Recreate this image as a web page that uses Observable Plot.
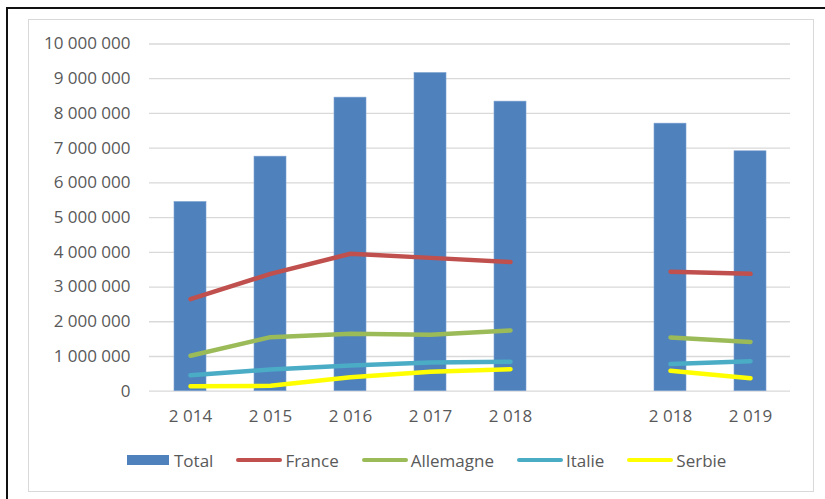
<!DOCTYPE html>
<html>
<head>
<meta charset="utf-8">
<script src="https://cdn.jsdelivr.net/npm/d3@7"></script>
<script src="https://cdn.jsdelivr.net/npm/@observablehq/plot@0.6"></script>
<style>
  html, body { margin: 0; padding: 0; background: #fff; }
  #wrap { position: relative; width: 825px; height: 499px; overflow: hidden; font-family: "Open Sans", sans-serif; }
  #outer { position: absolute; left: 6px; top: 7px; width: 840px; height: 520px; border-top: 2px solid #111; border-left: 2px solid #111; }
  #inner { position: absolute; left: 28px; top: 19px; width: 784px; height: 471px; border: 1.5px solid #d9d9d9; }
  #chart { position: absolute; left: 0; top: 0; }
  #legend { position: absolute; left: 127px; top: 449px; height: 22px; display: flex; align-items: center; font-size: 17px; color: #595959; white-space: nowrap; }
  .item { display: flex; align-items: center; margin-right: 23px; }
  .sw-rect { width: 42px; height: 10px; margin-right: 5px; }
  .sw-line { width: 46px; height: 4px; border-radius: 2px; margin-right: 3px; }
</style>
</head>
<body>
<div id="wrap">
  <div id="outer"></div>
  <div id="inner"></div>
  <div id="chart"></div>
  <div id="legend"></div>
</div>
<script>
const categories = ["2014", "2015", "2016", "2017", "2018a", "gap", "2018b", "2019"];
const tickLabels = ["2 014", "2 015", "2 016", "2 017", "2 018", "", "2 018", "2 019"];
const total     = [5450000, 6755000, 8455000, 9165000, 8340000, null, 7706000, 6910000];
const france    = [2650000, 3380000, 3960000, 3840000, 3720000, null, 3440000, 3380000];
const allemagne = [1020000, 1556000, 1654000, 1625000, 1750000, null, 1548000, 1420000];
const italie    = [460000, 625000, 740000, 827000, 847000, null, 780000, 865000];
const serbie    = [145000, 155000, 400000, 560000, 634000, null, 588000, 375000];
const yTicks = [0, 1000000, 2000000, 3000000, 4000000, 5000000, 6000000, 7000000, 8000000, 9000000, 10000000];

const seriesNames = ["France", "Allemagne", "Italie", "Serbie"];
const seriesValues = [france, allemagne, italie, serbie];
const seriesColors = ["#C0504D", "#9BBB59", "#4BACC6", "#FFFF00"];
const barColor = "#4F81BD";

const bars = categories.map((c, i) => ({cat: c, value: total[i]})).filter(d => d.value != null);
const lines = [];
seriesNames.forEach((s, k) => {
  categories.forEach((c, i) => lines.push({series: s, cat: c, value: seriesValues[k][i]}));
});

const fmt = d3.formatLocale({decimal: ",", thousands: " ", grouping: [3], currency: ["", ""]}).format(",");

const chart = Plot.plot({
  width: 825,
  height: 430,
  marginLeft: 149,
  marginRight: 35,
  marginTop: 43.5,
  marginBottom: 39.3,
  style: {fontFamily: "Open Sans, sans-serif", fontSize: "17px", color: "#595959", background: "transparent"},
  x: {domain: categories, paddingInner: 0.6, paddingOuter: 0.3, label: null},
  y: {domain: [0, 10000000], label: null},
  color: {domain: seriesNames, range: seriesColors},
  marks: [
    Plot.ruleY(yTicks, {stroke: "#d9d9d9", strokeWidth: 1.3}),
    Plot.barY(bars, {x: "cat", y: "value", fill: barColor, stroke: "#7ea2d0", strokeWidth: 0.6}),
    Plot.line(lines, {x: "cat", y: "value", z: "series", stroke: "series", strokeWidth: 4.5, strokeLinecap: "round", strokeLinejoin: "round"}),
    Plot.axisY({ticks: yTicks, tickFormat: fmt, tickSize: 0, tickPadding: 19, fill: "#595959"}),
    Plot.axisX({tickSize: 0, tickPadding: 19, fill: "#595959", tickFormat: d => tickLabels[categories.indexOf(d)]})
  ]
});
document.getElementById("chart").appendChild(chart);

const legend = document.getElementById("legend");
const mk = (label, swClass, color) => {
  const it = document.createElement("div");
  it.className = "item";
  const sw = document.createElement("div");
  sw.className = swClass;
  sw.style.background = color;
  const t = document.createElement("span");
  t.textContent = label;
  it.appendChild(sw); it.appendChild(t);
  legend.appendChild(it);
};
mk("Total", "sw-rect", barColor);
seriesNames.forEach((s, k) => mk(s, "sw-line", seriesColors[k]));
</script>
</body>
</html>
